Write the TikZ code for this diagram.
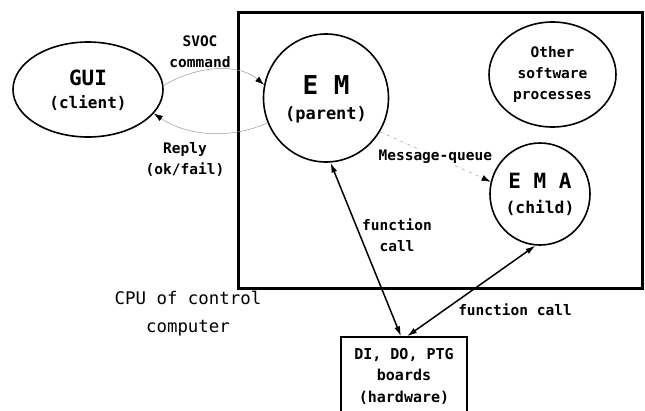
\documentclass[tikz,border=0pt]{standalone}
\usepackage{fontspec}
\setmonofont{DejaVu Sans Mono}
\newfontfamily\dmono{DejaVu Sans Mono}
\usetikzlibrary{shapes.geometric,arrows.meta}
\tikzset{
  proc/.style={ellipse, draw, line width=1.6pt, inner sep=0pt, align=center},
  lbl/.style={font=\dmono\bfseries\fontsize{14.5}{21}\selectfont, align=center, inner sep=1pt},
  thinarrow/.style={draw=gray!80, line width=0.5pt, -{Latex[length=9pt,width=6pt,black]}},
  callarrow/.style={line width=1.5pt, {Latex[length=10pt,width=6pt]}-{Latex[length=10pt,width=6pt]}},
}
\begin{document}
\begin{tikzpicture}[x=1pt,y=-1pt]
\useasboundingbox (0,0) rectangle (645,410);
% CPU frame
\node[draw, line width=3pt, minimum width=404pt, minimum height=276pt, inner sep=0pt] (cpu) at (440,150) {};
% processes
\node[proc, minimum width=150pt, minimum height=95pt] (gui) at (88,89.5) {};
\node[lbl, font=\dmono\bfseries\fontsize{21}{24}\selectfont] (guit) at (88,78) {GUI};
\node[lbl, font=\dmono\bfseries\fontsize{16}{20}\selectfont] (guis) at (88,103) {(client)};

\node[proc, minimum width=125pt, minimum height=128pt] (em) at (326,98) {};
\node[lbl, font=\dmono\bfseries\fontsize{26}{28}\selectfont] (emt) at (326,85) {E M};
\node[lbl, font=\dmono\bfseries\fontsize{17}{20}\selectfont] (ems) at (326,115) {(parent)};

\node[proc, minimum width=127pt, minimum height=105pt, font=\dmono\bfseries\fontsize{14.5}{21}\selectfont] (oth) at (552.5,74.5) {Other\\software\\processes};

\node[proc, minimum width=100pt, minimum height=102pt] (ema) at (540,194) {};
\node[lbl, font=\dmono\bfseries\fontsize{21}{24}\selectfont] (emat) at (540,181) {E M A};
\node[lbl, font=\dmono\bfseries\fontsize{16.3}{20}\selectfont] (emas) at (540,208) {(child)};

% hardware box
\node[draw, line width=1.3pt, minimum width=126pt, minimum height=78pt, inner sep=0pt,
      font=\dmono\bfseries\fontsize{15}{21.5}\selectfont, align=center] (hw) at (404,376) {DI, DO, PTG\\boards\\(hardware)};

% CPU caption
\node[font=\dmono\fontsize{17.4}{28}\selectfont, align=center] (cap) at (188,314) {CPU of control\\computer};

% GUI <-> EM
\draw[thinarrow] (gui.3) .. controls (200,64) and (240,64) .. (em.168);
\draw[thinarrow] (em.203) .. controls (235,138) and (190,138) .. (gui.340);
\node[lbl] (svoc) at (200,52) {SVOC\\command};
\node[lbl] (reply) at (185,159) {Reply\\(ok/fail)};

% message queue
\draw[thinarrow, dash dot] (em.-32) -- node[lbl, fill=white, pos=0.5] (mq) {Message-queue} (ema.166);

% function calls
\draw[callarrow] (em.274) -- ([xshift=-3pt]hw.north);
\draw[callarrow] ([xshift=3pt]hw.north) -- (ema.265);
\node[lbl] (fc1) at (397,235) {function\\call};
\node[lbl] (fc2) at (515,310) {function call};
\end{tikzpicture}
\end{document}
